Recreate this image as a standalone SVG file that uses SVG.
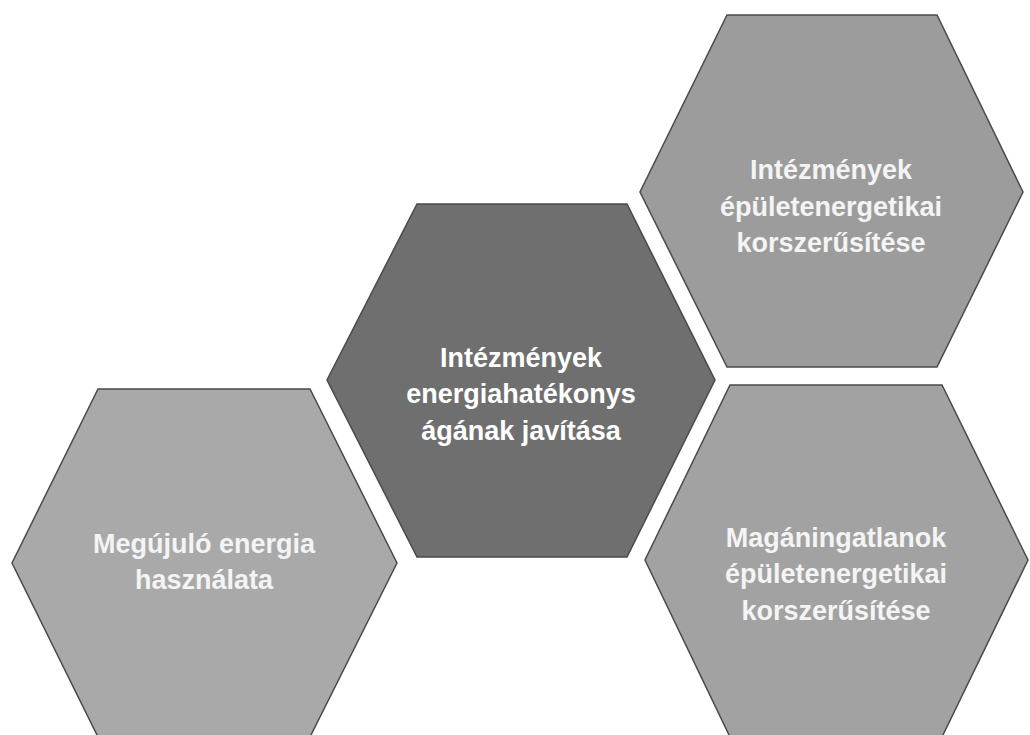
<svg xmlns="http://www.w3.org/2000/svg" width="1030" height="735" viewBox="0 0 1030 735">
<style>
.hex{stroke:#4a4a4a;stroke-width:1.5}
.lbl{font-family:"Liberation Sans","DejaVu Sans",sans-serif;font-size:27px;font-weight:bold;fill:#ffffff;text-anchor:middle}
.lt{fill:#f4f4f4}
</style>
<rect width="1030" height="735" fill="#ffffff"/>
<g id="node-megujulo">
<polygon class="hex" fill="#a9a9a9" points="98,389 310,389 397,563 310,737 98,737 12,563"/>
<text class="lbl lt" x="204" y="553">Megújuló energia</text>
<text class="lbl lt" x="204" y="589">használata</text>
</g>
<g id="node-intezmenyek-energia">
<polygon class="hex" fill="#6f6f6f" points="417,204 627,204 715,380 627,557 417,557 327,380"/>
<text class="lbl" x="521" y="367">Intézmények</text>
<text class="lbl" x="521" y="403">energiahatékonys</text>
<text class="lbl" x="521" y="440">ágának javítása</text>
</g>
<g id="node-intezmenyek-epulet">
<polygon class="hex" fill="#9c9c9c" points="727,15 937,15 1023,192 937,367 727,367 640,192"/>
<text class="lbl lt" x="831" y="179">Intézmények</text>
<text class="lbl lt" x="831" y="216">épületenergetikai</text>
<text class="lbl lt" x="831" y="252">korszerűsítése</text>
</g>
<g id="node-maganingatlanok">
<polygon class="hex" fill="#a2a2a2" points="730,385 942,385 1028,560 942,737 730,737 645,560"/>
<text class="lbl lt" x="836" y="547">Magáningatlanok</text>
<text class="lbl lt" x="836" y="583">épületenergetikai</text>
<text class="lbl lt" x="836" y="620">korszerűsítése</text>
</g>
<g id="connectors"></g>
</svg>
